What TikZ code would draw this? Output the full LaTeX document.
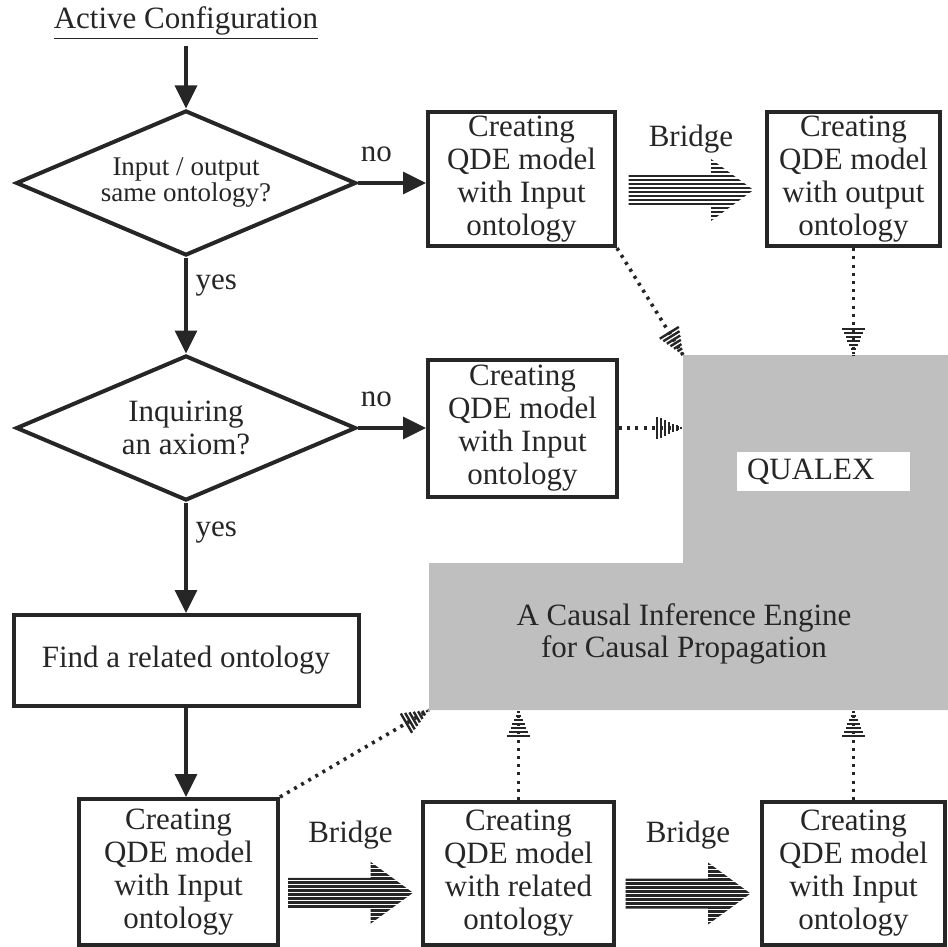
\documentclass[tikz,border=0pt]{standalone}
\usepackage{fontspec}
\setmainfont{Liberation Serif}
\usetikzlibrary{arrows.meta,positioning,shapes.geometric,calc,decorations.markings}

\begin{document}
\begin{tikzpicture}[x=0.5pt, y=-0.5pt, >={Triangle[length=11.5pt,width=11pt]},
  font=\fontsize{15.5}{16.5}\selectfont, color=black!85,
  box/.style={draw, line width=2pt, align=center, inner sep=2pt},
  dec/.style={draw, diamond, line width=2pt, align=center, inner sep=0pt, shape aspect=2.3,
    minimum width=170pt, minimum height=72.5pt},
  lbl/.style={inner sep=1pt},
  flow/.style={->, line width=1.6pt},
  link/.style={line width=1.8pt, dash pattern=on 1.5pt off 2.6pt, postaction={decorate},
    decoration={markings, mark=at position -13pt with {\foreach \k in {0,...,6}
      \draw[solid, line width=1.2pt] ({\k*2pt},{-(6.6-\k)*0.85pt}) -- ({\k*2pt},{(6.6-\k)*0.85pt});}}},
  bridgearrow/.pic={
    \begin{scope}
      \clip (-62.5,-15) -- (20,-15) -- (20,-31) -- (62.5,0) -- (20,31) -- (20,15) -- (-62.5,15) -- cycle;
      \foreach \yy in {-30,-26,...,30} \draw[line width=1.3pt] (-64,\yy) -- (64,\yy);
    \end{scope}}]
  \useasboundingbox (0,0) rectangle (948,947);

  \coordinate (g1) at (683,355); \coordinate (g2) at (948,355);
  \coordinate (g3) at (948,710); \coordinate (g4) at (429,710);
  \coordinate (g5) at (429,563); \coordinate (g6) at (683,563);
  \fill[black!25] (g1) -- (g2) -- (g3) -- (g4) -- (g5) -- (g6) -- cycle;
  \node[fill=white, inner xsep=5pt, text width=76.5pt, minimum height=16.5pt, align=left] (qx) at (823.5,471.5) {QUALEX};
  \node[align=center, font=\fontsize{15.5}{16}\selectfont] (eng) at (684,634) {A Causal Inference Engine\\for Causal Propagation};

  \node (act) at (186,23) {\underline{Active Configuration}};
  \node[dec, font=\fontsize{13.5}{13}\selectfont] (d1) at (186,183) {Input / output\\same ontology?};
  \node[dec] (d2) at (186,428) {Inquiring\\an axiom?};
  \node[box, minimum width=93.5pt, minimum height=67pt] (b1) at (521.5,179) {Creating\\QDE model\\with Input\\ontology};
  \node[box, minimum width=86.5pt, minimum height=67pt] (b2) at (853.5,179) {Creating\\QDE model\\with output\\ontology};
  \node[box, minimum width=94.5pt, minimum height=68.5pt] (b3) at (522.5,428) {Creating\\QDE model\\with Input\\ontology};
  \node[box, minimum width=172.5pt, minimum height=45.5pt] (find) at (186,660.5) {Find a related ontology};
  \node[box, minimum width=99.5pt, minimum height=73pt] (c1) at (178.5,872) {Creating\\QDE model\\with Input\\ontology};
  \node[box, minimum width=95.5pt, minimum height=71.5pt] (c2) at (518.5,873.5) {Creating\\QDE model\\with related\\ontology};
  \node[box, minimum width=91.5pt, minimum height=71.5pt] (c3) at (853.5,873.5) {Creating\\QDE model\\with Input\\ontology};

  \draw[flow] (act.south) -- (d1.north);
  \draw[flow] (d1.east) -- node[lbl, pos=0.27, above=9pt] {no} (d1.east -| b1.west);
  \draw[flow] (d1.south) -- node[lbl, pos=0.29, right=3pt] {yes} (d2.north);
  \draw[flow] (d2.east) -- node[lbl, pos=0.27, above=9pt] {no} (b3.west);
  \draw[flow] (d2.south) -- node[lbl, pos=0.27, right=3pt] {yes} (find.north);
  \draw[flow] (find.south) -- (find.south |- c1.north);

  \draw[link] (b1.south east) -- (g1);
  \draw[link] (b2.south) -- (b2.south |- g1);
  \draw[link] (b3.east) -- (b3.east -| g1);
  \draw[link] (c1.north east) -- (g4);
  \draw[link] (c2.north) -- (c2.north |- g4);
  \draw[link] (c3.north) -- (c3.north |- g4);

  \node[lbl] (br1) at ($(b1.east)!.5!(b2.west)+(0,-40)$) {Bridge};
  \pic at ($(b1.east)!.5!(b2.west)+(0,11)$) {bridgearrow};
  \node[lbl] (br2) at ($(c1.east)!.5!(c2.west)+(0,-38)$) {Bridge};
  \pic at ($(c1.east)!.5!(c2.west)+(0,20)$) {bridgearrow};
  \node[lbl] (br3) at ($(c2.east)!.5!(c3.west)+(0,-38)$) {Bridge};
  \pic at ($(c2.east)!.5!(c3.west)+(0,20)$) {bridgearrow};
\end{tikzpicture}
\end{document}
